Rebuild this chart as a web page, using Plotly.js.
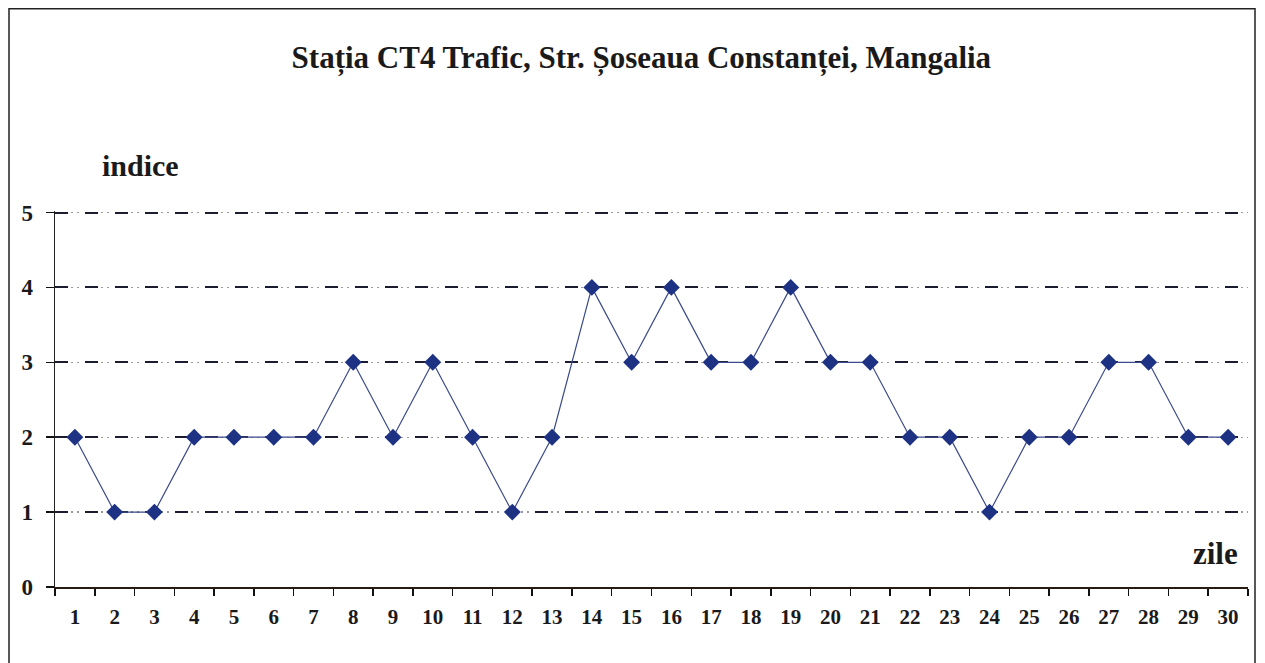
<!DOCTYPE html>
<html>
<head>
<meta charset="utf-8">
<script src="https://cdn.plot.ly/plotly-3.0.1.min.js"></script>
<style>html,body{margin:0;padding:0;background:#fff;}#chart{width:1265px;height:663px;}</style>
</head>
<body>
<div id="chart"></div>
<script>
const days = ["1","2","3","4","5","6","7","8","9","10","11","12","13","14","15","16","17","18","19","20","21","22","23","24","25","26","27","28","29","30"];
const indice = [2,1,1,2,2,2,2,3,2,3,2,1,2,4,3,4,3,3,4,3,3,2,2,1,2,2,3,3,2,2];
const yTicks = [0,1,2,3,4,5];

const serif = "Liberation Serif, Times New Roman, serif";
const yTop = 5.02;

const trace = {
  x: days, y: indice, type: "scatter", mode: "lines+markers",
  line: {color: "#3b4a8a", width: 1.2},
  marker: {symbol: "diamond", size: 13, color: "#1e3284", line: {width: 0}},
  cliponaxis: false, hoverinfo: "x+y"
};
// invisible helper on an overlaid axis, only to carry the dotted part of the grid
const helper = {x: [days[0]], y: [yTicks[0]], xaxis: "x", yaxis: "y2", type: "scatter", mode: "markers",
  marker: {opacity: 0}, hoverinfo: "skip"};

const W = 1193, L = 55, B = 587, PPU = 75;
const H = yTop * PPU;
function px2x(p){ return (p - L) / W; }
function py2y(p){ return (B - p) / H; }

const layout = {
  width: 1265, height: 663,
  margin: {l: 55, r: 17, t: 663 - 76 - H, b: 76},
  paper_bgcolor: "#ffffff", plot_bgcolor: "#ffffff",
  showlegend: false,
  title: {
    text: "<b>Stația CT4 Trafic, Str. Șoseaua Constanței, Mangalia</b>",
    font: {family: serif, size: 31, color: "#1a1a1a"},
    x: 0.507, xref: "container", xanchor: "center",
    y: 1 - 57/663, yref: "container", yanchor: "middle"
  },
  xaxis: {
    type: "category", range: [-0.5, 29.5],
    tickson: "boundaries", ticks: "outside", ticklen: 7, tickwidth: 1.5, tickcolor: "#111",
    showline: true, linecolor: "#2a1a14", linewidth: 1.8,
    showgrid: false, zeroline: false,
    ticklabelstandoff: 10,
    tickfont: {family: serif, size: 21, color: "#1a1a1a", weight: "bold"},
    fixedrange: true
  },
  yaxis: {
    range: [0, yTop], tickvals: yTicks, ticktext: yTicks.map(String),
    ticks: "outside", ticklen: 8, tickwidth: 1.5, tickcolor: "#111",
    showline: true, linecolor: "#222", linewidth: 1.5,
    showgrid: true, gridcolor: "#1c1c30", gridwidth: 2,
    griddash: "13px,17px",
    zeroline: false,
    ticklabelstandoff: 8,
    tickfont: {family: serif, size: 23, color: "#1a1a1a", weight: "bold"},
    fixedrange: true
  },
  yaxis2: {
    overlaying: "y", range: [0, yTop], tickvals: yTicks.slice(1),
    showticklabels: false, ticks: "", showline: false, zeroline: false,
    showgrid: true, gridcolor: "#9a9a9a", gridwidth: 1.2,
    griddash: "0px,16px,2px,4px,2px,6px",
    fixedrange: true
  },
  annotations: [
    {text: "<b>indice</b>", xref: "paper", yref: "paper", x: px2x(100), y: py2y(165),
     xanchor: "left", yanchor: "middle", showarrow: false,
     font: {family: serif, size: 30, color: "#1a1a1a"}},
    {text: "<b>zile</b>", xref: "paper", yref: "paper", x: px2x(1240), y: py2y(553),
     xanchor: "right", yanchor: "middle", showarrow: false,
     font: {family: serif, size: 31, color: "#1a1a1a"}}
  ],
  shapes: [
    {type: "rect", xref: "paper", yref: "paper", layer: "above",
     x0: px2x(9), x1: px2x(1255), y0: py2y(668), y1: py2y(8),
     line: {color: "#222", width: 1.5}, fillcolor: "rgba(0,0,0,0)"}
  ]
};

Plotly.newPlot("chart", [helper, trace], layout, {displayModeBar: false, staticPlot: true});
</script>
</body>
</html>
